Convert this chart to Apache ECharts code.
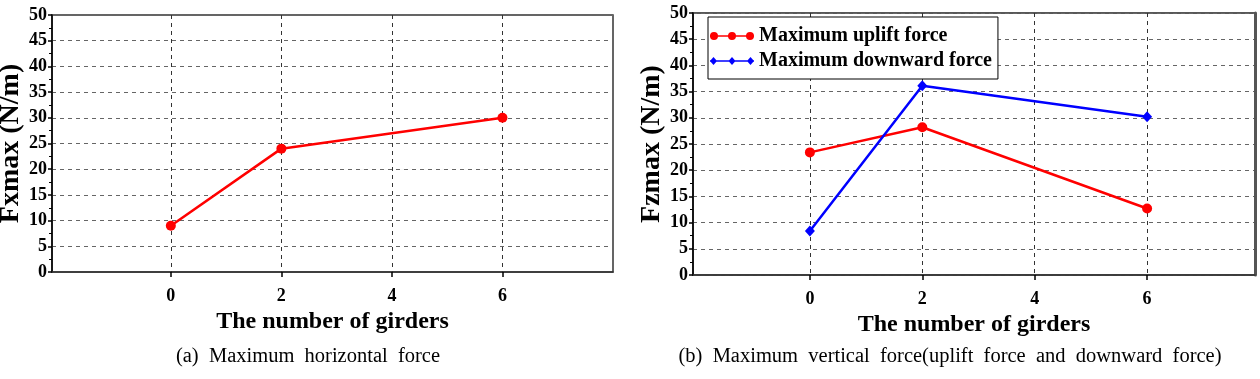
<!DOCTYPE html>
<html>
<head>
<meta charset="utf-8">
<script src="https://cdn.jsdelivr.net/npm/echarts@6/dist/echarts.min.js"></script>
<style>
html,body{margin:0;padding:0;background:#fff;}
#c{width:1260px;height:379px;}
</style>
</head>
<body>
<div id="c"></div>
<script>
// ---- data ----
const girdersA = [0, 2, 6];
const horizontalForce = [9, 24, 30];
const girdersB = [0, 2, 6];
const upliftForce = [23.4, 28.2, 12.7];
const downwardForce = [8.4, 36.1, 30.2];
const xTickValues = [0, 2, 4, 6];
const captionA = '(a)  Maximum  horizontal  force';
const captionB = '(b)  Maximum  vertical  force(uplift  force  and  downward  force)';
const xName = 'The number of girders';
const yNameA = 'Fxmax (N/m)';
const yNameB = 'Fzmax (N/m)';
const legendNames = ['Maximum uplift force', 'Maximum downward force'];

const FONT = "'Liberation Serif','Times New Roman',serif";
const pairs = (xs, ys) => xs.map((x, i) => [x, ys[i]]);

const circleIcon = 'path://M0,6.5 L88,6.5 L88,9.5 L0,9.5 Z M0,8 A8,8 0 1,1 16,8 A8,8 0 1,1 0,8 Z M36,8 A8,8 0 1,1 52,8 A8,8 0 1,1 36,8 Z M72,8 A8,8 0 1,1 88,8 A8,8 0 1,1 72,8 Z';
const diamondIcon = 'path://M0,6.5 L88,6.5 L88,9.5 L0,9.5 Z M0,8 L7,0 L14,8 L7,16 Z M37,8 L44,0 L51,8 L44,16 Z M74,8 L81,0 L88,8 L81,16 Z';

function xAxisCfg(grid, min, max) {
  return {
    type: 'value', gridIndex: grid, min: min, max: max,
    name: xName, nameLocation: 'middle', nameGap: 38,
    nameTextStyle: {fontFamily: FONT, fontWeight: 'bold', fontSize: 24, color: '#000'},
    axisLine: {onZero: false, lineStyle: {color: '#333', width: 1.5}},
    axisTick: {show: true, length: 5, customValues: xTickValues, lineStyle: {color: '#000', width: 1.5}},
    axisLabel: {customValues: xTickValues, margin: 15, fontFamily: FONT, fontWeight: 'bold', fontSize: 18, color: '#000'},
    splitLine: {show: true, lineStyle: {type: [4, 4], color: '#333', width: 1}},
    minorTick: {show: false}
  };
}
function yAxisCfg(grid, name, gap) {
  return {
    type: 'value', gridIndex: grid, min: 0, max: 50, interval: 5,
    name: name, nameLocation: 'middle', nameGap: gap,
    nameTextStyle: {fontFamily: FONT, fontWeight: 'bold', fontSize: 28, color: '#000'},
    axisLine: {show: true, onZero: false, lineStyle: {color: '#000', width: 1.5}},
    axisTick: {show: true, length: 4, lineStyle: {color: '#000', width: 1.5}},
    minorTick: {show: true, splitNumber: 2, length: 3, lineStyle: {color: '#000', width: 1}},
    axisLabel: {margin: 5, fontFamily: FONT, fontWeight: 'bold', fontSize: 18, color: '#000'},
    splitLine: {show: true, lineStyle: {type: [4, 4], color: '#666', width: 1}}
  };
}

const chart = echarts.init(document.getElementById('c'), null, {renderer: 'canvas'});
chart.setOption({
  backgroundColor: '#fff',
  animation: false,
  grid: [
    {left: 52, top: 15, width: 561, height: 257, containLabel: false, outerBoundsMode: 'none', show: true, borderColor: '#333', borderWidth: 1.5, backgroundColor: 'transparent'},
    {left: 693, top: 13, width: 562, height: 262, containLabel: false, outerBoundsMode: 'none', show: true, borderColor: '#222', borderWidth: 1.5, backgroundColor: 'transparent'}
  ],
  xAxis: [xAxisCfg(0, -2.15, 8), xAxisCfg(1, -2.08, 7.92)],
  yAxis: [
    yAxisCfg(0, yNameA, 27),
    yAxisCfg(1, yNameB, 25),
    {type: 'value', gridIndex: 1, position: 'right', min: 0, max: 50,
     axisLine: {show: true, onZero: false, lineStyle: {color: '#555', width: 3}},
     axisTick: {show: false}, axisLabel: {show: false}, splitLine: {show: false}}
  ],
  legend: {
    data: [
      {name: legendNames[0], icon: circleIcon},
      {name: legendNames[1], icon: diamondIcon}
    ],
    orient: 'vertical', left: 708, top: 17,
    itemWidth: 44, itemHeight: 10, itemGap: 5,
    padding: [9, 6, 8, 2],
    borderColor: '#000', borderWidth: 1, backgroundColor: '#fff',
    textStyle: {fontFamily: FONT, fontWeight: 'bold', fontSize: 20, color: '#000'}
  },
  series: [
    {name: 'Maximum horizontal force', type: 'line', xAxisIndex: 0, yAxisIndex: 0,
     data: pairs(girdersA, horizontalForce), symbol: 'circle', symbolSize: 10,
     lineStyle: {color: '#ff0000', width: 2.5}, itemStyle: {color: '#ff0000'}},
    {name: legendNames[0], type: 'line', xAxisIndex: 1, yAxisIndex: 1,
     data: pairs(girdersB, upliftForce), symbol: 'circle', symbolSize: 10,
     lineStyle: {color: '#ff0000', width: 2.5}, itemStyle: {color: '#ff0000'}},
    {name: legendNames[1], type: 'line', xAxisIndex: 1, yAxisIndex: 1,
     data: pairs(girdersB, downwardForce), symbol: 'diamond', symbolSize: [10, 11],
     lineStyle: {color: '#0000ff', width: 2.5}, itemStyle: {color: '#0000ff'}}
  ],
  graphic: [
    {type: 'text', x: 308, y: 357, style: {text: captionA, font: '20.5px ' + FONT, fill: '#000', textAlign: 'center', textVerticalAlign: 'middle'}},
    {type: 'text', x: 950, y: 357, style: {text: captionB, font: '20.5px ' + FONT, fill: '#000', textAlign: 'center', textVerticalAlign: 'middle'}}
  ]
});
</script>
</body>
</html>
